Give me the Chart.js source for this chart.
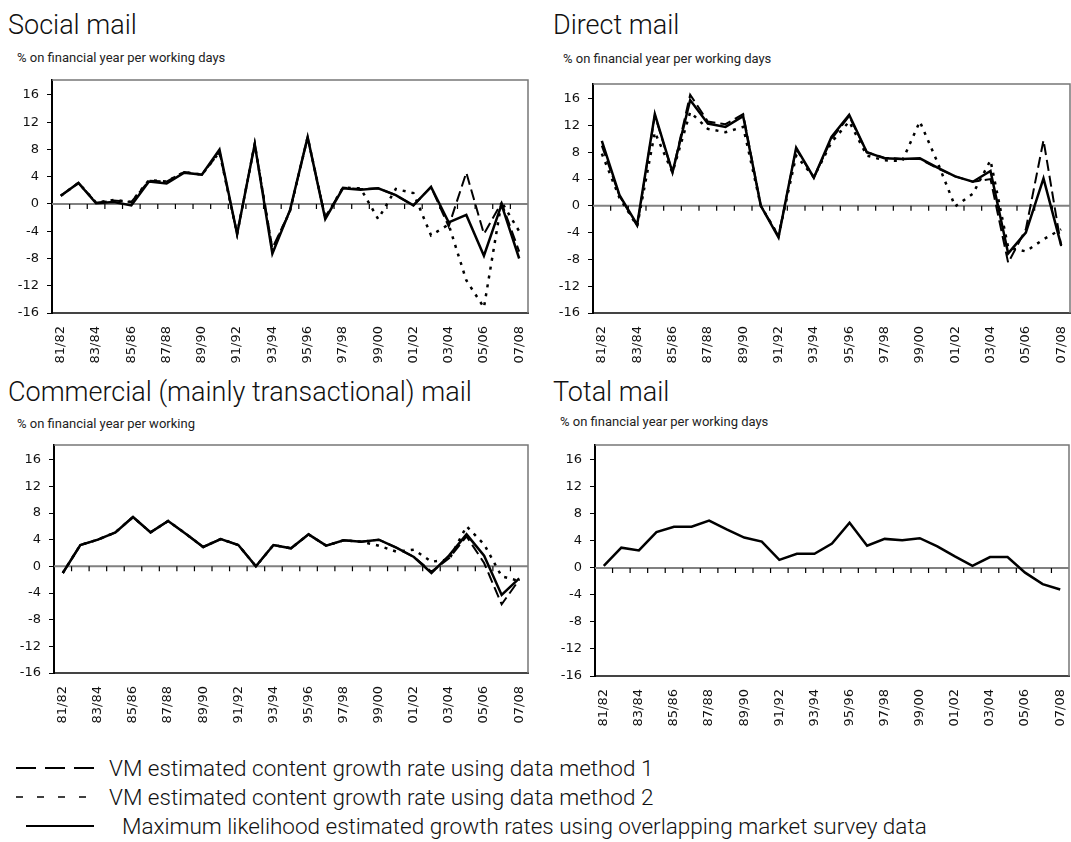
<!doctype html>
<html lang="en">
<head>
  <meta charset="utf-8">
  <title>Mail content growth rates</title>
  <script src="https://cdn.jsdelivr.net/npm/chart.js"></script>
  <style>
    body { margin: 0; background: #fff; }
    #page { position: relative; width: 1071px; height: 842px; overflow: hidden; font-family: Roboto, "Open Sans", sans-serif; color: #111; }
    .title { position: absolute; font-size: 27px; font-weight: 300; line-height: 27px; white-space: nowrap; }
    .sub { position: absolute; font-size: 13px; line-height: 13px; white-space: nowrap; color: #222; }
    canvas { position: absolute; }
    .legend { position: absolute; left: 0; width: 1071px; height: 24px; font-size: 22.5px; font-weight: 300; line-height: 24px; white-space: nowrap; }
    .legend svg { position: absolute; left: 0; top: 0; }
    .legend span { position: absolute; top: 0; }
  </style>
</head>
<body>
<div id="page">
  <div class="title" style="left:8px; top:12px;">Social mail</div>
  <div class="sub" style="left:17px; top:51px;">% on financial year per working days</div>
  <canvas id="social" width="540" height="293" style="left:0; top:70px;"></canvas>

  <div class="title" style="left:553px; top:12px;">Direct mail</div>
  <div class="sub" style="left:563px; top:52px;">% on financial year per working days</div>
  <canvas id="direct" width="530" height="293" style="left:541px; top:70px;"></canvas>

  <div class="title" style="left:8px; top:379px;">Commercial (mainly transactional) mail</div>
  <div class="sub" style="left:17px; top:417px;">% on financial year per working</div>
  <canvas id="commercial" width="540" height="287" style="left:0; top:436px;"></canvas>

  <div class="title" style="left:553px; top:379px;">Total mail</div>
  <div class="sub" style="left:560px; top:415px;">% on financial year per working days</div>
  <canvas id="total" width="530" height="290" style="left:541px; top:436px;"></canvas>

  <!-- legend -->
  <div class="legend" style="top:756px;">
    <svg width="100" height="24"><line x1="16" y1="12" x2="94" y2="12" stroke="#000" stroke-width="2" stroke-dasharray="20,9"/></svg>
    <span style="left:109px;">VM estimated content growth rate using data method 1</span>
  </div>
  <div class="legend" style="top:785px;">
    <svg width="100" height="24"><line x1="16" y1="12" x2="86" y2="12" stroke="#000" stroke-width="1.5" stroke-dasharray="7,14"/></svg>
    <span style="left:109px;">VM estimated content growth rate using data method 2</span>
  </div>
  <div class="legend" style="top:814px;">
    <svg width="100" height="24"><line x1="26" y1="12" x2="94" y2="12" stroke="#000" stroke-width="2"/></svg>
    <span style="left:122px;">Maximum likelihood estimated growth rates using overlapping market survey data</span>
  </div>
</div>

<script>
  // categorias (anos financeiros) e ticks do eixo y
  var categories = ['81/82', '82/83', '83/84', '84/85', '85/86', '86/87', '87/88', '88/89', '89/90',
                    '90/91', '91/92', '92/93', '93/94', '94/95', '95/96', '96/97', '97/98', '98/99',
                    '99/00', '00/01', '01/02', '02/03', '03/04', '04/05', '05/06', '06/07', '07/08'];
  var yTickValues = [-16, -12, -8, -4, 0, 4, 8, 12, 16];

  // Social mail
  var socialMethod1 = [1.2, 3.1, 0.2, 0.5, 0.3, 3.4, 3.3, 4.7, 4.3, 7.6, -4.4, 8.8, -6.5, -1.0, 9.8, -2.0, 2.4, 2.2, 2.3, 1.3, -0.2, 2.5, -3.3, 4.6, -4.4, 0.2, -7.0];
  var socialMethod2 = [1.2, 3.1, 0.2, 0.6, 0.3, 3.5, 3.3, 4.7, 4.3, 7.6, -4.4, 8.8, -6.8, -1.0, 9.8, -2.0, 2.4, 2.3, -2.2, 2.2, 1.6, -4.6, -3.0, -11.2, -15.2, 0.3, -4.0];
  var socialML = [1.2, 3.1, 0.1, 0.3, -0.2, 3.3, 3.0, 4.6, 4.3, 8.0, -4.4, 8.8, -7.3, -0.9, 9.8, -2.2, 2.3, 2.1, 2.3, 1.3, -0.2, 2.5, -2.7, -1.6, -7.6, -0.1, -8.0];

  // Direct mail
  var directMethod1 = [9.0, 1.5, -3.0, 13.5, 5.0, 16.6, 12.6, 12.2, 13.7, 0.0, -4.5, 8.5, 4.2, 10.0, 13.4, 8.0, 7.2, 7.0, 7.0, 5.6, 4.4, 3.6, 4.0, -8.5, -3.5, 9.8, -6.0];
  var directMethod2 = [7.8, 1.2, -3.0, 11.0, 5.0, 14.0, 11.5, 11.0, 11.8, 0.0, -4.5, 7.5, 4.3, 9.5, 12.6, 7.5, 6.8, 6.7, 12.6, 6.5, -0.1, 1.8, 6.8, -6.2, -6.8, -5.0, -3.5];
  var directML = [9.7, 1.6, -2.8, 13.7, 5.0, 15.8, 12.3, 11.8, 13.4, 0.0, -4.7, 8.7, 4.2, 10.3, 13.6, 8.0, 7.1, 7.0, 7.1, 5.7, 4.4, 3.6, 5.2, -7.1, -4.0, 4.1, -5.9];

  // Commercial (mainly transactional) mail
  var commercialMethod1 = [-1.0, 3.2, 4.0, 5.1, 7.4, 5.1, 6.8, 4.9, 2.9, 4.1, 3.2, 0.0, 3.2, 2.7, 4.8, 3.1, 3.9, 3.7, 4.0, 2.8, 1.4, -0.8, 1.2, 4.5, 0.5, -5.7, -2.0];
  var commercialMethod2 = [-1.0, 3.2, 4.0, 5.1, 7.4, 5.1, 6.8, 4.9, 2.9, 4.1, 3.2, 0.0, 3.2, 2.7, 4.8, 3.1, 3.9, 3.7, 3.1, 2.2, 2.5, 0.7, 1.0, 6.0, 3.3, -1.5, -2.2];
  var commercialML = [-1.0, 3.2, 4.0, 5.1, 7.4, 5.1, 6.8, 4.9, 2.9, 4.1, 3.2, 0.0, 3.2, 2.7, 4.8, 3.1, 3.9, 3.7, 4.0, 2.8, 1.4, -1.0, 1.6, 4.8, 1.6, -4.3, -1.8];

  // Total mail
  var totalML = [0.3, 3.0, 2.6, 5.3, 6.1, 6.1, 7.0, 5.7, 4.5, 3.9, 1.2, 2.1, 2.1, 3.6, 6.7, 3.3, 4.3, 4.1, 4.4, 3.2, 1.7, 0.3, 1.6, 1.6, -0.7, -2.4, -3.2];

  var lineStyles = {
    ml: { borderWidth: 2.5, borderDash: [] },
    m1: { borderWidth: 2, borderDash: [11, 5] },
    m2: { borderWidth: 2.5, borderDash: [3, 6] }
  };

  // moldura cinza (topo e direita), linha do zero e marcas das categorias
  var framePlugin = {
    id: 'frame',
    beforeDatasetsDraw: function(chart) {
      var ctx = chart.ctx, a = chart.chartArea;
      var xs = chart.scales.x, ys = chart.scales.y;
      ctx.save();
      ctx.strokeStyle = '#777';
      ctx.lineWidth = 1.5;
      ctx.beginPath();
      ctx.moveTo(a.left, a.top);
      ctx.lineTo(a.right, a.top);
      ctx.lineTo(a.right, a.bottom);
      ctx.stroke();

      var y0 = ys.getPixelForValue(0);
      ctx.strokeStyle = '#808080';
      ctx.lineWidth = 2;
      ctx.beginPath();
      ctx.moveTo(a.left, y0);
      ctx.lineTo(a.right, y0);
      ctx.stroke();

      ctx.strokeStyle = '#000';
      ctx.lineWidth = 1.2;
      ctx.beginPath();
      for (var i = 1; i < categories.length; i++) {
        var px = (xs.getPixelForValue(i - 1) + xs.getPixelForValue(i)) / 2;
        ctx.moveTo(px, y0);
        ctx.lineTo(px, y0 + 5);
      }
      ctx.stroke();
      ctx.restore();
    }
  };

  function buildPanel(id, series, padTop, padRight, yWidth) {
    // a primeira série fica por cima
    var datasets = series.map(function(s) {
      return {
        data: s.data,
        borderColor: '#000',
        borderWidth: lineStyles[s.style].borderWidth,
        borderDash: lineStyles[s.style].borderDash,
        fill: false
      };
    });
    var tickFont = { family: "'DejaVu Sans', sans-serif", size: 13 };
    return new Chart(document.getElementById(id).getContext('2d'), {
      type: 'line',
      data: { labels: categories, datasets: datasets },
      options: {
        responsive: false,
        animation: false,
        layout: { padding: { top: padTop, right: padRight, left: 0, bottom: 0 } },
        plugins: { legend: { display: false }, tooltip: { enabled: false } },
        elements: {
          point: { radius: 0 },
          line: { tension: 0, borderCapStyle: 'butt', borderJoinStyle: 'miter' }
        },
        scales: {
          x: {
            offset: true,
            grid: { display: false, drawTicks: false },
            border: { display: true, color: '#444', width: 2 },
            ticks: {
              autoSkip: false, maxRotation: 90, minRotation: 90, padding: 13,
              font: tickFont, color: '#111',
              callback: function(v, i) { return i % 2 === 0 ? categories[i] : ''; }
            },
            afterFit: function(s) {
              s.height = 50;
              s.paddingLeft = 0;
              s.paddingRight = 0;
            }
          },
          y: {
            min: -16,
            max: 18.2,
            afterBuildTicks: function(s) {
              s.ticks = yTickValues.map(function(v) { return { value: v }; });
            },
            grid: { drawOnChartArea: false, drawTicks: true, tickLength: 5, tickColor: '#000', lineWidth: 1 },
            border: { color: '#000', width: 2 },
            ticks: { padding: 8, font: tickFont, color: '#111' },
            afterFit: function(s) {
              s.width = yWidth;
              s.paddingTop = 0;
              s.paddingBottom = 0;
            }
          }
        }
      },
      plugins: [framePlugin]
    });
  }

  buildPanel('social', [
    { data: socialML, style: 'ml' },
    { data: socialMethod1, style: 'm1' },
    { data: socialMethod2, style: 'm2' }
  ], 10, 12, 52);

  buildPanel('direct', [
    { data: directML, style: 'ml' },
    { data: directMethod1, style: 'm1' },
    { data: directMethod2, style: 'm2' }
  ], 14, 1, 52);

  buildPanel('commercial', [
    { data: commercialML, style: 'ml' },
    { data: commercialMethod1, style: 'm1' },
    { data: commercialMethod2, style: 'm2' }
  ], 9, 12, 54);

  buildPanel('total', [
    { data: totalML, style: 'ml' }
  ], 9, 2, 54);
</script>
</body>
</html>
